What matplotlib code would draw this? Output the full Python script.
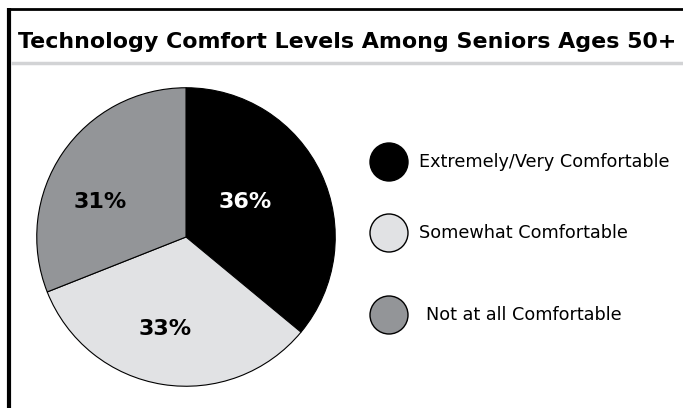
import matplotlib.pyplot as plt
from matplotlib.patches import Circle
import numpy as np

# survey shares, clockwise from 12 o'clock
categories = ["Extremely/Very Comfortable", "Somewhat Comfortable", "Not at all Comfortable"]
shares = [36, 33, 31]
colors = ["#000000", "#e1e2e4", "#939598"]
label_colors = ["white", "black", "black"]
title = "Technology Comfort Levels Among Seniors Ages 50+"

W, H = 683, 408
fig = plt.figure(figsize=(W / 100, H / 100), dpi=100)

# overlay axes in pixel units for frame, title and legend
bg = fig.add_axes([0, 0, 1, 1])
bg.set_xlim(0, W)
bg.set_ylim(H, 0)
bg.axis("off")
bg.plot([9, W], [9, 9], color="black", lw=2, solid_capstyle="butt")
bg.plot([9, 9], [8, H], color="black", lw=3, solid_capstyle="butt")
bg.plot([11, W], [63, 63], color="#d2d3d5", lw=2.5, solid_capstyle="butt")
bg.text(18, 48, title, fontsize=15.9, fontweight="bold", family="DejaVu Sans",
        ha="left", va="baseline")

# pie
ax = fig.add_axes([36 / W, (H - 387) / H, 300 / W, 300 / H])
wedges, _ = ax.pie(shares, colors=colors, startangle=90, counterclock=False,
                   wedgeprops=dict(edgecolor="black", linewidth=0.8))
ax.set_xlim(-1.005, 1.005)
ax.set_ylim(-1.005, 1.005)
ax.set_aspect("equal")

# label spots as (angle in degrees, radius fraction)
label_pos = [(30.7, 0.46), (-102.9, 0.63), (157.8, 0.62)]
for val, (ang, r), c in zip(shares, label_pos, label_colors):
    a = np.deg2rad(ang)
    ax.text(r * np.cos(a), r * np.sin(a), f"{val}%", color=c, fontsize=16,
            fontweight="bold", ha="center", va="center")

# legend markers
leg_y = [162, 233, 315]
text_x = [419, 419, 426]
for name, col, y, tx in zip(categories, colors, leg_y, text_x):
    bg.add_patch(Circle((389, y), 19, facecolor=col, edgecolor="black", lw=1))
    bg.text(tx, y, name, fontsize=12.7, family="DejaVu Sans", ha="left", va="center")

fig.savefig("out.png", dpi=100)
